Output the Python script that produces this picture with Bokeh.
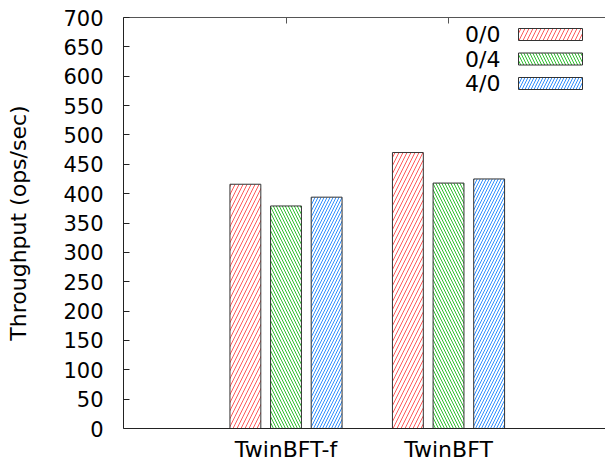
import numpy as np
from bokeh.plotting import figure
from bokeh.models import Range1d, FixedTicker, LinearAxis, BoxAnnotation, Label
from bokeh.embed import file_html
from bokeh.resources import INLINE

# ---- data ----
categories = ["TwinBFT-f", "TwinBFT"]
series_names = ["0/0", "0/4", "4/0"]
vals_00 = [416, 470]
vals_04 = [379, 418]
vals_40 = [394, 425]
series_values = [vals_00, vals_04, vals_40]
y_ticks = list(range(0, 701, 50))

# ---- styles ----
colors = ["#ff5a5a", "#2fbf2f", "#2f8fff"]
patterns = ["/", "\\", "/"]
scales = [8.0, 6.0, 6.0]
FONT = "DejaVu Sans"
FRAME_LEFT = 123
FRAME_BOTTOM = 429

p = figure(width=605, height=464, x_range=Range1d(-1, 1.966), y_range=Range1d(0, 700),
           output_backend="svg", toolbar_location=None,
           min_border_left=FRAME_LEFT, min_border_right=0, min_border_top=17,
           min_border_bottom=464 - FRAME_BOTTOM)
p.outline_line_color = None
p.xgrid.visible = False
p.ygrid.visible = False
p.background_fill_color = "white"
p.border_fill_color = "white"

idx = np.arange(len(categories))
offsets = [-0.25, 0.0, 0.25]
for vals, col, pat, sc, off in zip(series_values, colors, patterns, scales, offsets):
    p.vbar(x=idx + off, top=vals, bottom=0, width=0.19,
           fill_color="white", line_color="#333333", line_width=1,
           hatch_pattern=pat, hatch_color=col, hatch_scale=sc, hatch_weight=1)

# y axis
ya = p.yaxis[0]
ya.ticker = FixedTicker(ticks=y_ticks)
ya.major_tick_in = 6
ya.major_tick_out = 0
ya.minor_tick_line_color = None
ya.major_label_standoff = 20
ya.major_label_text_font = FONT
ya.major_label_text_font_size = "21px"
ya.major_label_text_color = "black"
ya.axis_line_color = "#222222"
ya.major_tick_line_color = "#222222"
ya.axis_label = "Throughput (ops/sec)"
ya.axis_label_text_font = FONT
ya.axis_label_text_font_size = "22px"
ya.axis_label_text_font_style = "normal"
ya.axis_label_text_color = "black"
ya.axis_label_standoff = 29

# x axis
xa = p.xaxis[0]
xa.ticker = FixedTicker(ticks=list(idx))
xa.major_label_overrides = {int(i): c for i, c in zip(idx, categories)}
xa.major_tick_in = 0
xa.major_tick_out = 0
xa.minor_tick_line_color = None
xa.major_label_standoff = 8
xa.major_label_text_font = FONT
xa.major_label_text_font_size = "22px"
xa.major_label_text_color = "black"
xa.axis_line_color = "#222222"

# top border with mirrored ticks
ta = LinearAxis(ticker=FixedTicker(ticks=list(idx)), major_label_text_font_size="0px",
                major_label_standoff=0, major_tick_in=6, major_tick_out=0,
                minor_tick_line_color=None, axis_line_color="#555555",
                major_tick_line_color="#555555")
ta.major_label_overrides = {int(i): "" for i in idx}
p.add_layout(ta, "above")

# legend (gnuplot style: label left of swatch); screen units are frame-relative, y up
for i, (name, col, pat, sc) in enumerate(zip(series_names, colors, patterns, scales)):
    yc = 35 + i * 24.5  # pixel row from top of page
    ys = FRAME_BOTTOM - yc
    p.add_layout(BoxAnnotation(left=518 - FRAME_LEFT, right=582 - FRAME_LEFT,
                               top=ys + 6, bottom=ys - 6,
                               left_units="screen", right_units="screen",
                               top_units="screen", bottom_units="screen",
                               fill_color="white", fill_alpha=1,
                               line_color="#333333", line_width=1, line_alpha=1,
                               hatch_pattern=pat, hatch_color=col, hatch_scale=sc,
                               hatch_weight=1, level="overlay"))
    p.add_layout(Label(x=500 - FRAME_LEFT, y=ys, x_units="screen", y_units="screen", text=name,
                       text_align="right", text_baseline="middle",
                       text_font=FONT, text_font_size="22px", text_color="black"))

open("out.html", "w").write(file_html(p, INLINE))
